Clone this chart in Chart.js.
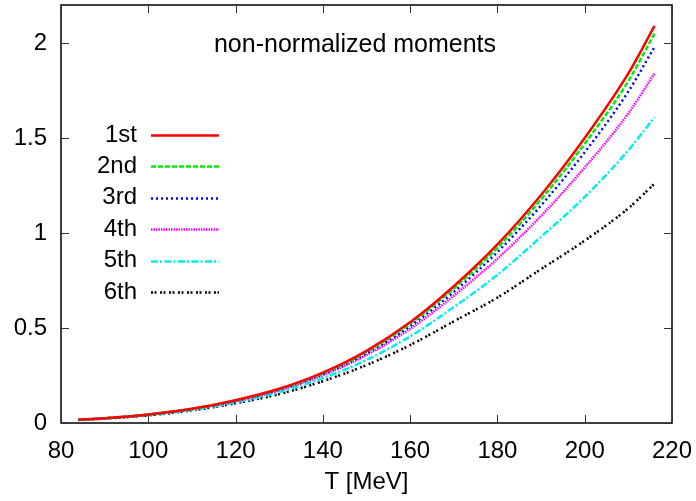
<!DOCTYPE html>
<html>
<head>
<meta charset="utf-8">
<script src="https://cdn.jsdelivr.net/npm/chart.js@4/dist/chart.umd.min.js"></script>
<style>
  html, body { margin: 0; padding: 0; background: #fff; }
  #wrap { width: 696px; height: 501px; }
</style>
</head>
<body>
<div id="wrap"><canvas id="moments" width="696" height="501"></canvas></div>
<script>
var temps = [84, 90, 100, 110, 120, 130, 140, 150, 160, 170, 180, 190, 200, 210, 216];

var m1 = [0.017, 0.025, 0.045, 0.075, 0.120, 0.180, 0.265, 0.380, 0.530, 0.720, 0.940, 1.200, 1.500, 1.840, 2.090];
var m2 = [0.017, 0.025, 0.045, 0.074, 0.119, 0.178, 0.261, 0.374, 0.522, 0.708, 0.922, 1.177, 1.470, 1.800, 2.050];
var m3 = [0.017, 0.025, 0.044, 0.074, 0.118, 0.176, 0.257, 0.367, 0.510, 0.690, 0.900, 1.145, 1.425, 1.745, 1.980];
var m4 = [0.017, 0.024, 0.044, 0.073, 0.115, 0.172, 0.252, 0.358, 0.496, 0.670, 0.865, 1.090, 1.345, 1.630, 1.840];
var m5 = [0.016, 0.024, 0.042, 0.069, 0.109, 0.162, 0.236, 0.332, 0.456, 0.610, 0.780, 0.980, 1.190, 1.435, 1.610];
var m6 = [0.016, 0.023, 0.040, 0.066, 0.104, 0.152, 0.220, 0.305, 0.410, 0.535, 0.660, 0.810, 0.960, 1.130, 1.260];

var labels = ["1st", "2nd", "3rd", "4th", "5th", "6th"];
var colors = ["#ff0000", "#00ee00", "#0000ff", "#ff00ff", "#00eeee", "#000000"];
var dashes = [[], [5, 2], [2, 3], [1.5, 1], [7, 2, 2, 2.5], [2, 1.5, 2, 3.5]];

var xTicks = [80, 100, 120, 140, 160, 180, 200, 220];
var yTicks = [0, 0.5, 1, 1.5, 2];

var FONT = "'Liberation Sans', Arial, Helvetica, sans-serif";

function pts(ys) {
  var out = [];
  for (var i = 0; i < temps.length; i++) out.push({ x: temps[i], y: ys[i] });
  return out;
}

var series = [m1, m2, m3, m4, m5, m6];
var datasets = [];
for (var k = 0; k < series.length; k++) {
  datasets.push({
    label: labels[k],
    data: pts(series[k]),
    borderColor: colors[k],
    borderDash: dashes[k],
    borderWidth: 2.5,
    pointRadius: 0,
    fill: false,
    cubicInterpolationMode: 'monotone'
  });
}

// frame, inward ticks on all sides, key and caption (gnuplot look)
var gnuplotBits = {
  id: 'gnuplotBits',
  afterDraw: function(chart) {
    var ctx = chart.ctx;
    var a = chart.chartArea;
    var xs = chart.scales.x, ys = chart.scales.y;
    ctx.save();
    ctx.strokeStyle = '#000';
    ctx.lineWidth = 1.5;
    ctx.setLineDash([]);
    ctx.strokeRect(a.left, a.top, a.right - a.left, a.bottom - a.top);

    ctx.lineWidth = 1;
    ctx.strokeStyle = '#333';
    ctx.beginPath();
    xTicks.forEach(function(v) {
      var px = Math.round(xs.getPixelForValue(v)) + 0.5;
      ctx.moveTo(px, a.bottom); ctx.lineTo(px, a.bottom - 8);
      ctx.moveTo(px, a.top); ctx.lineTo(px, a.top + 8);
    });
    yTicks.forEach(function(v) {
      var py = Math.round(ys.getPixelForValue(v)) + 0.5;
      ctx.moveTo(a.left, py); ctx.lineTo(a.left + 8, py);
      ctx.moveTo(a.right, py); ctx.lineTo(a.right - 8, py);
    });
    ctx.stroke();

    // caption
    ctx.fillStyle = '#000';
    ctx.font = '25px ' + FONT;
    ctx.textAlign = 'center';
    ctx.textBaseline = 'middle';
    ctx.fillText('non-normalized moments', 355, 45);

    // key
    ctx.font = '24px ' + FONT;
    ctx.textAlign = 'right';
    for (var i = 0; i < labels.length; i++) {
      var yy = 135 + i * 31.4;
      ctx.fillStyle = '#000';
      ctx.fillText(labels[i], 137, yy);
      ctx.strokeStyle = colors[i];
      ctx.lineWidth = 2.5;
      ctx.setLineDash(dashes[i]);
      ctx.beginPath();
      ctx.moveTo(151, Math.round(yy) + 0.5);
      ctx.lineTo(219, Math.round(yy) + 0.5);
      ctx.stroke();
    }
    ctx.restore();
  }
};

var ctx = document.getElementById('moments').getContext('2d');
var chart = new Chart(ctx, {
  type: 'line',
  data: { datasets: datasets },
  options: {
    responsive: false,
    animation: false,
    layout: { padding: { left: 0, right: 24, top: 5, bottom: 0 } },
    plugins: {
      legend: { display: false },
      tooltip: { enabled: false }
    },
    scales: {
      x: {
        type: 'linear',
        min: 80,
        max: 220,
        border: { display: false },
        grid: { display: false, drawTicks: false },
        ticks: {
          stepSize: 20,
          padding: 14,
          color: '#000',
          font: { family: FONT, size: 24 },
          maxRotation: 0
        },
        title: {
          display: true,
          text: 'T [MeV]',
          color: '#000',
          font: { family: FONT, size: 24 },
          padding: { top: 0, bottom: 4 }
        },
        afterFit: function(s) {
          s.height = 78;
          s.paddingLeft = 0; s.paddingRight = 0;
        }
      },
      y: {
        min: 0,
        max: 2.2,
        border: { display: false },
        grid: { display: false, drawTicks: false },
        ticks: {
          stepSize: 0.5,
          padding: 14,
          color: '#000',
          font: { family: FONT, size: 24 },
          callback: function(v) { return String(v); }
        },
        afterBuildTicks: function(s) {
          s.ticks = s.ticks.filter(function(t) { return t.value <= 2.0001; });
        },
        afterFit: function(s) {
          s.width = 61;
          s.paddingTop = 0; s.paddingBottom = 0;
        }
      }
    }
  },
  plugins: [gnuplotBits]
});
</script>
</body>
</html>
